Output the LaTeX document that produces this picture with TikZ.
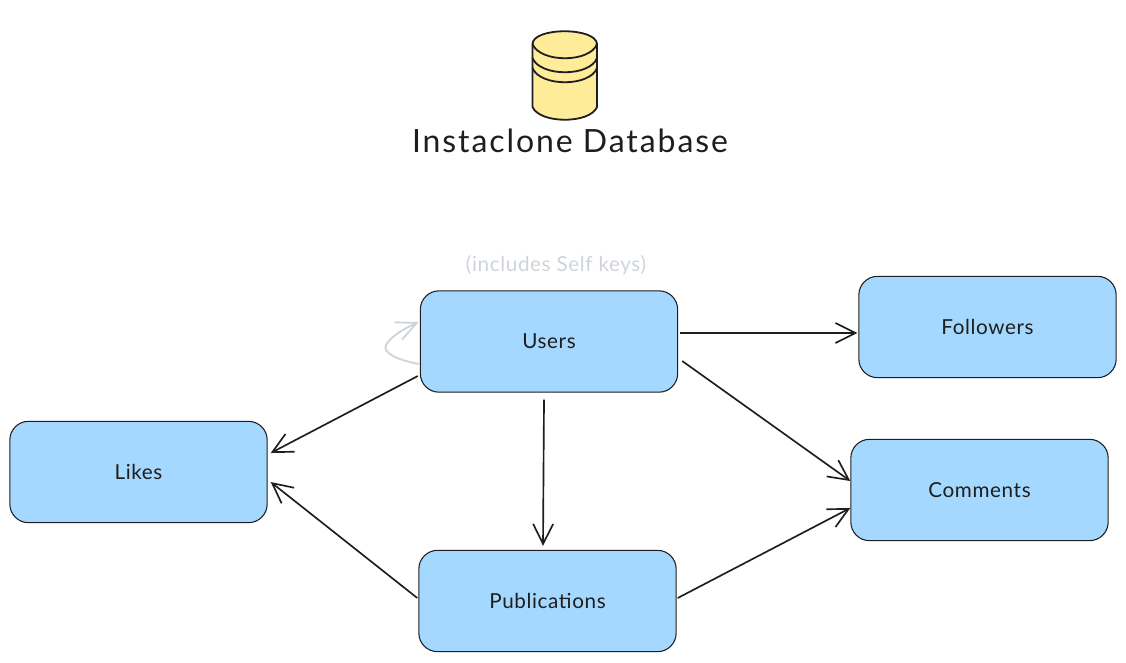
\documentclass[tikz,border=0pt]{standalone}
\usepackage{fontspec}
\setmainfont{Lato}
\newfontfamily\tablefont[LetterSpace=3]{Lato}
\newfontfamily\titlefont[LetterSpace=6]{Lato}
\usetikzlibrary{arrows.meta}
\definecolor{boxblue}{HTML}{A5D8FF}
\definecolor{dbyellow}{HTML}{FFEC99}
\definecolor{inkblack}{HTML}{1E1E1E}
\definecolor{notegray}{HTML}{CED4DA}
\tikzset{
    table/.style={draw=inkblack,line width=0.8pt,fill=boxblue,rounded corners=14pt,minimum width=193pt,minimum height=76pt,inner sep=0pt,text=inkblack,font=\tablefont\fontsize{15.5}{18}\selectfont},
    link/.style={draw=inkblack,line width=1.25pt,-{Straight Barb[length=15pt,width=15pt,line width=1.25pt]}},
    dbline/.style={draw=inkblack,line width=1.35pt,line cap=round,line join=round}
}
\begin{document}
\begin{tikzpicture}[x=0.75pt,y=-0.75pt]
    \useasboundingbox (0,0) rectangle (1126,662);
    % database
    \fill[dbyellow] (532.5,44) .. controls (533,27) and (596,27) .. (597,44) -- (597,107) .. controls (590,124) and (540,124) .. (532.5,107) -- cycle;
    \draw[dbline] (532.5,44) .. controls (533,27) and (596,27) .. (597,44) -- (597,107) .. controls (590,124) and (540,124) .. (532.5,107) -- cycle;
    \draw[dbline] (532.5,44) .. controls (540,63) and (590,63) .. (597,44);
    \draw[dbline] (532.5,58) .. controls (540,77) and (590,77) .. (597,58);
    \draw[dbline] (532.5,68) .. controls (540,87) and (590,87) .. (597,68);
    \node[text=inkblack,font=\titlefont\fontsize{24}{28}\selectfont] (title) at (570,141) {Instaclone Database};
    % tables
    \node[table] (users) at (549,341.5) {Users};
    \node[table] (followers) at (987.5,327) {Followers};
    \node[table] (comments) at (979.5,490) {Comments};
    \node[table] (likes) at (138.5,472) {Likes};
    \node[table] (publications) at (547.5,601) {Publications};
    \node[text=notegray,font=\tablefont\fontsize{15.5}{18}\selectfont] (selfnote) at (556,265) {(includes Self keys)};
    % links
    \draw[link] ([shift={(2,-8.5)}]users.east) -- ([shift={(-1,6)}]followers.west);
    \draw[link] ([shift={(4,19.5)}]users.east) -- ([shift={(0,-9)}]comments.west);
    \draw[link] ([shift={(-2,34.5)}]users.west) -- ([shift={(3,-19)}]likes.east);
    \draw[link] ([shift={(-5,7)}]users.south) -- ([shift={(-4.5,-4)}]publications.north);
    \draw[link] ([shift={(-1,-3)}]publications.west) -- ([shift={(3,10)}]likes.east);
    \draw[link] ([shift={(1,-3)}]publications.east) -- ([shift={(0,18)}]comments.west);
    \draw[draw=notegray,line width=1.4pt,-{Straight Barb[length=15pt,width=14pt,line width=1.4pt]}] ([shift={(-1,22.5)}]users.west) .. controls (398,360) and (382,353) .. (386,345) .. controls (390,337) and (405,328) .. ([shift={(-1,-19.5)}]users.west);
\end{tikzpicture}
\end{document}
